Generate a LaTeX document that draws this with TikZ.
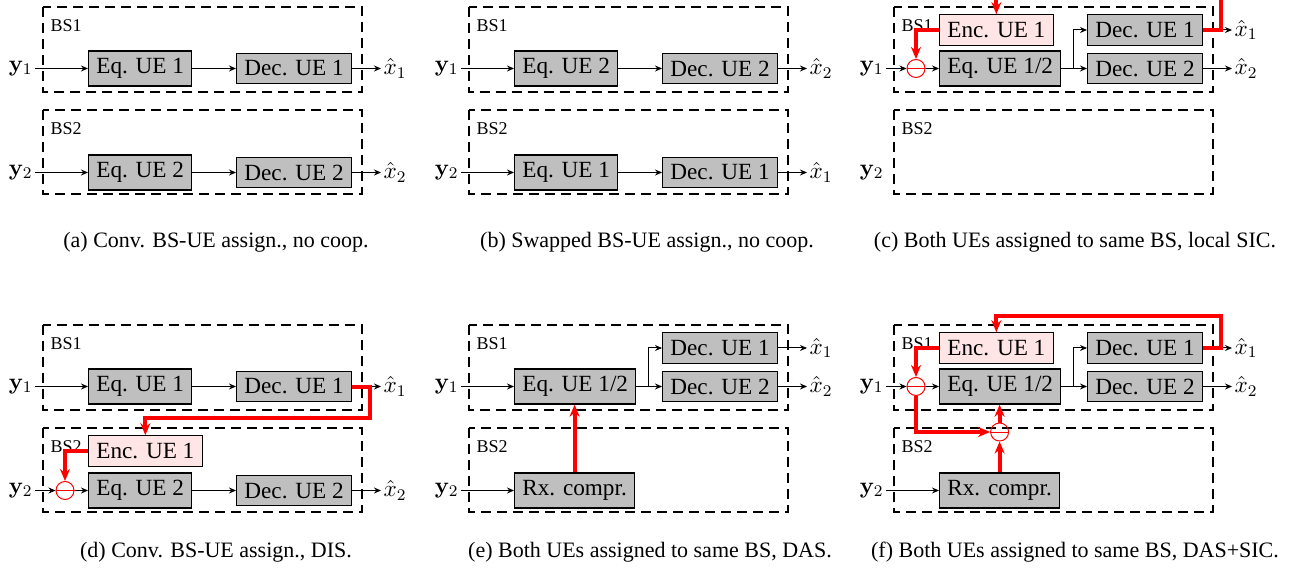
\RequirePackage{fix-cm}
\documentclass[tikz,border=0pt]{standalone}
\usepackage[no-math]{fontspec}
\setmainfont{Liberation Serif}
\usepackage{amsmath}
\usetikzlibrary{arrows.meta}
\usetikzlibrary{positioning}

\newcommand{\blkfont}{\fontsize{11.6}{14}\selectfont}
\newcommand{\bsfont}{\fontsize{9}{11}\selectfont}
\newcommand{\capfnt}{\fontsize{11}{13}\selectfont}

\begin{document}
\begin{tikzpicture}
    [
    x=0.5pt, y=-0.5pt, line width=0.5pt,
    >={Stealth[length=3.5pt,width=3pt]},
    block/.style={draw, line width=0.6pt, fill=gray!50, anchor=west, inner xsep=3.9pt, inner ysep=3.7pt, font=\blkfont},
    encblock/.style={block, fill=red!10},
    bsbox/.style={draw, line width=0.6pt, dash pattern=on 5pt off 3pt},
    bslabel/.style={anchor=west, inner sep=1pt, font=\bsfont},
    inlabel/.style={anchor=east, inner sep=1pt, font=\blkfont},
    outlabel/.style={anchor=west, inner sep=1pt, font=\blkfont},
    subtr/.style={circle, draw=red, line width=0.5pt, minimum size=9pt, inner sep=0pt},
    redline/.style={draw=red, line width=2pt},
    redarrow/.style={redline, -{Stealth[length=6pt,width=5pt]}},
    caption/.style={anchor=base, font=\capfnt}
    ]
  \useasboundingbox (0,0) rectangle (1289,571);

  % (a) conventional assignment
  \begin{scope}
    \draw[bsbox] (43,7) rectangle (362,92);
    \draw[bsbox] (43,110) rectangle (362,194);
    \node[bslabel] (bs1a) at (48,26) {BS1};
    \node[bslabel] (bs2a) at (48,129) {BS2};
    \node[inlabel] (y1a) at (35,68.5) {$\mathbf{y}_1$};
    \node[inlabel] (y2a) at (35,172.5) {$\mathbf{y}_2$};
    \node[block] (eq1a) at (88,68.5) {Eq. UE 1};
    \node[block] (dec1a) at (236,68.5) {Dec. UE 1};
    \node[block] (eq2a) at (88,172.5) {Eq. UE 2};
    \node[block] (dec2a) at (236,172.5) {Dec. UE 2};
    \node[outlabel] (x1a) at (381,68.5) {$\hat{x}_1$};
    \node[outlabel] (x2a) at (381,172.5) {$\hat{x}_2$};
    \path[->]
      (y1a) edge (eq1a)
      (eq1a) edge (dec1a)
      (dec1a) edge (x1a)
      (y2a) edge (eq2a)
      (eq2a) edge (dec2a)
      (dec2a) edge (x2a);
  \end{scope}
  \node[caption] (capa) at (216,248) {(a) Conv. BS-UE assign., no coop.};

  % (b) swapped assignment
  \begin{scope}[shift={(426,0)}]
    \draw[bsbox] (43,7) rectangle (362,92);
    \draw[bsbox] (43,110) rectangle (362,194);
    \node[bslabel] (bs1b) at (48,26) {BS1};
    \node[bslabel] (bs2b) at (48,129) {BS2};
    \node[inlabel] (y1b) at (35,68.5) {$\mathbf{y}_1$};
    \node[inlabel] (y2b) at (35,172.5) {$\mathbf{y}_2$};
    \node[block] (eq1b) at (88,68.5) {Eq. UE 2};
    \node[block] (dec1b) at (236,68.5) {Dec. UE 2};
    \node[block] (eq2b) at (88,172.5) {Eq. UE 1};
    \node[block] (dec2b) at (236,172.5) {Dec. UE 1};
    \node[outlabel] (x1b) at (381,68.5) {$\hat{x}_2$};
    \node[outlabel] (x2b) at (381,172.5) {$\hat{x}_1$};
    \path[->]
      (y1b) edge (eq1b)
      (eq1b) edge (dec1b)
      (dec1b) edge (x1b)
      (y2b) edge (eq2b)
      (eq2b) edge (dec2b)
      (dec2b) edge (x2b);
  \end{scope}
  \node[caption] (capb) at (647,248) {(b) Swapped BS-UE assign., no coop.};

  % (c) both at BS1, local SIC
  \begin{scope}[shift={(851,0)}]
    \draw[bsbox] (43,7) rectangle (362,92);
    \draw[bsbox] (43,110) rectangle (362,194);
    \node[bslabel] (bs1c) at (48,26) {BS1};
    \node[bslabel] (bs2c) at (48,129) {BS2};
    \node[inlabel] (y1c) at (35,68.5) {$\mathbf{y}_1$};
    \node[inlabel] (y2c) at (35,172.5) {$\mathbf{y}_2$};
    \node[subtr] (s1c) at (65,68.5) {};
    \node[encblock] (encc) at (88,30) {Enc. UE 1};
    \node[block] (eqc) at (88,68.5) {Eq. UE 1/2};
    \node[block] (dec1c) at (236,30) {Dec. UE 1};
    \node[block] (dec2c) at (236,68.5) {Dec. UE 2};
    \node[outlabel] (x1c) at (381,30) {$\hat{x}_1$};
    \node[outlabel] (x2c) at (381,68.5) {$\hat{x}_2$};
    \coordinate (jc) at (222,68.5);
    \coordinate (tc) at (370,30);
    \coordinate (uc) at (370,-2);
    \draw[red, line width=0.5pt] (s1c.west) -- (s1c.east);
    \path[->]
      (y1c) edge (s1c)
      (s1c) edge (eqc)
      (dec2c) edge (x2c);
    \draw[->] (eqc.east) -- (jc) |- (dec1c.west);
    \draw[->] (jc) -- (dec2c.west);
    \draw[->] (tc) -- (x1c);
    \draw[redarrow] (dec1c.east) -- (tc) -- (uc) -| (encc.north);
    \draw[redarrow] (encc.west) -| (s1c.north);
  \end{scope}
  \node[caption] (capc) at (1075,248) {(c) Both UEs assigned to same BS, local SIC.};

  % (d) conventional assignment, DIS
  \begin{scope}[shift={(0,318)}]
    \draw[bsbox] (43,7) rectangle (362,92);
    \draw[bsbox] (43,110) rectangle (362,194);
    \node[bslabel] (bs1d) at (48,26) {BS1};
    \node[bslabel] (bs2d) at (48,129) {BS2};
    \node[inlabel] (y1d) at (35,68.5) {$\mathbf{y}_1$};
    \node[inlabel] (y2d) at (35,172.5) {$\mathbf{y}_2$};
    \node[block] (eq1d) at (88,68.5) {Eq. UE 1};
    \node[block] (dec1d) at (236,68.5) {Dec. UE 1};
    \node[encblock] (encd) at (88,133) {Enc. UE 1};
    \node[subtr] (s1d) at (65,172.5) {};
    \node[block] (eq2d) at (88,172.5) {Eq. UE 2};
    \node[block] (dec2d) at (236,172.5) {Dec. UE 2};
    \node[outlabel] (x1d) at (381,68.5) {$\hat{x}_1$};
    \node[outlabel] (x2d) at (381,172.5) {$\hat{x}_2$};
    \coordinate (td) at (370,68.5);
    \coordinate (ud) at (370,100);
    \draw[red, line width=0.5pt] (s1d.west) -- (s1d.east);
    \path[->]
      (y1d) edge (eq1d)
      (eq1d) edge (dec1d)
      (y2d) edge (s1d)
      (s1d) edge (eq2d)
      (eq2d) edge (dec2d)
      (dec2d) edge (x2d);
    \draw[->] (td) -- (x1d);
    \draw[redarrow] (dec1d.east) -- (td) -- (ud) -| (encd.north);
    \draw[redarrow] (encd.west) -| (s1d.north);
  \end{scope}
  \node[caption] (capd) at (216,557) {(d) Conv. BS-UE assign., DIS.};

  % (e) both at BS1, DAS
  \begin{scope}[shift={(426,318)}]
    \draw[bsbox] (43,7) rectangle (362,92);
    \draw[bsbox] (43,110) rectangle (362,194);
    \node[bslabel] (bs1e) at (48,26) {BS1};
    \node[bslabel] (bs2e) at (48,129) {BS2};
    \node[inlabel] (y1e) at (35,68.5) {$\mathbf{y}_1$};
    \node[inlabel] (y2e) at (35,172.5) {$\mathbf{y}_2$};
    \node[block] (eqe) at (88,68.5) {Eq. UE 1/2};
    \node[block] (dec1e) at (236,30) {Dec. UE 1};
    \node[block] (dec2e) at (236,68.5) {Dec. UE 2};
    \node[block] (rxe) at (88,172.5) {Rx. compr.};
    \node[outlabel] (x1e) at (381,30) {$\hat{x}_1$};
    \node[outlabel] (x2e) at (381,68.5) {$\hat{x}_2$};
    \coordinate (je) at (222,68.5);
    \path[->]
      (y1e) edge (eqe)
      (dec1e) edge (x1e)
      (dec2e) edge (x2e)
      (y2e) edge (rxe);
    \draw[->] (eqe.east) -- (je) |- (dec1e.west);
    \draw[->] (je) -- (dec2e.west);
    \draw[redarrow] (rxe.north) -- (rxe.north |- eqe.south);
  \end{scope}
  \node[caption] (cape) at (650,557) {(e) Both UEs assigned to same BS, DAS.};

  % (f) both at BS1, DAS with SIC
  \begin{scope}[shift={(851,318)}]
    \draw[bsbox] (43,7) rectangle (362,92);
    \draw[bsbox] (43,110) rectangle (362,194);
    \node[bslabel] (bs1f) at (48,26) {BS1};
    \node[bslabel] (bs2f) at (48,129) {BS2};
    \node[inlabel] (y1f) at (35,68.5) {$\mathbf{y}_1$};
    \node[inlabel] (y2f) at (35,172.5) {$\mathbf{y}_2$};
    \node[subtr] (s1f) at (65,68.5) {};
    \node[encblock] (encf) at (88,30) {Enc. UE 1};
    \node[block] (eqf) at (88,68.5) {Eq. UE 1/2};
    \node[block] (dec1f) at (236,30) {Dec. UE 1};
    \node[block] (dec2f) at (236,68.5) {Dec. UE 2};
    \node[block] (rxf) at (88,172.5) {Rx. compr.};
    \node[subtr] (s2f) at (rxf.north |- 0,114) {};
    \node[outlabel] (x1f) at (381,30) {$\hat{x}_1$};
    \node[outlabel] (x2f) at (381,68.5) {$\hat{x}_2$};
    \coordinate (jf) at (222,68.5);
    \coordinate (tf) at (370,30);
    \coordinate (uf) at (370,-2);
    \draw[red, line width=0.5pt] (s1f.west) -- (s1f.east);
    \draw[red, line width=0.5pt] (s2f.west) -- (s2f.east);
    \path[->]
      (y1f) edge (s1f)
      (s1f) edge (eqf)
      (dec2f) edge (x2f)
      (y2f) edge (rxf);
    \draw[->] (eqf.east) -- (jf) |- (dec1f.west);
    \draw[->] (jf) -- (dec2f.west);
    \draw[->] (tf) -- (x1f);
    \draw[redarrow] (dec1f.east) -- (tf) -- (uf) -| (encf.north);
    \draw[redarrow] (encf.west) -| (s1f.north);
    \draw[redarrow] (s1f.south) |- (s2f.west);
    \draw[redarrow] (rxf.north) -- (s2f.south);
    \draw[redarrow] (s2f.north) -- (s2f.north |- eqf.south);
  \end{scope}
  \node[caption] (capf) at (1075,557) {(f) Both UEs assigned to same BS, DAS+SIC.};
\end{tikzpicture}
\end{document}
